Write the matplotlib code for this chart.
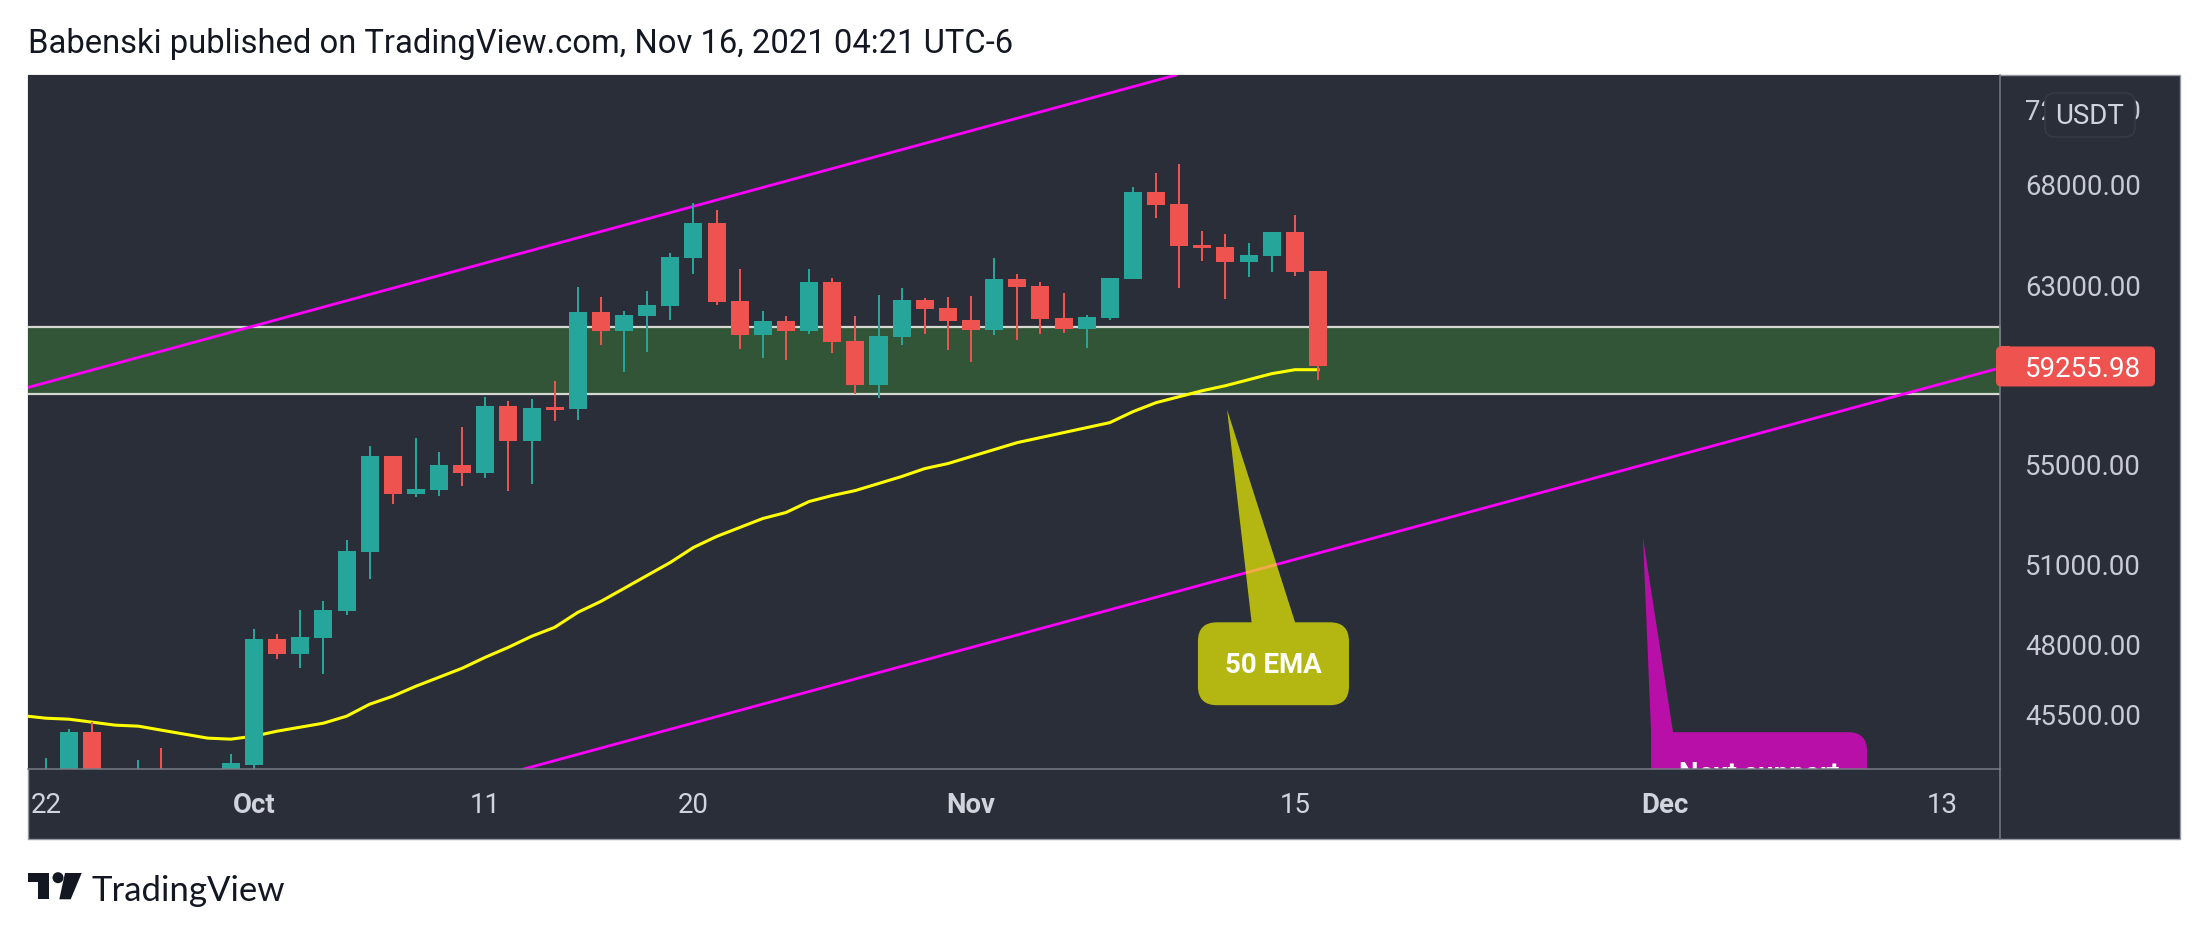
import numpy as np
from matplotlib import pyplot as plt
from matplotlib.patches import FancyBboxPatch, PathPatch, Polygon, Circle, Rectangle
from matplotlib.path import Path
from matplotlib.ticker import NullLocator, NullFormatter
from matplotlib.transforms import IdentityTransform

plt.rcParams['font.family'] = ['Roboto', 'DejaVu Sans']

W, H = 2208, 935
BG = "#2a2e39"
UP = "#26a69a"
DOWN = "#ef5350"
AXIS = "#787b86"
TEXT = "#d1d4dc"
LABEL_SIZE = 19.9

# days counted from Oct 1 2021
days = list(range(-9, 47))
opens = [40700, 43560, 44905, 42840, 42700, 43170, 42170, 41030, 41520, 43797, 48181, 47637, 48217, 49214,
         51462, 55385, 53813, 53976, 55008, 54676, 57521, 56017, 57477, 57390, 61765, 60883, 61579, 62047,
         64344, 66072, 62282, 60699, 61345, 60883, 63184, 60424, 58443, 60607, 62329, 61953, 61392, 60929,
         63328, 62994, 61485, 60975, 61485, 63328, 67641, 67029, 64980, 64881, 64149, 64441, 65623, 63713]
highs = [44030, 45007, 45247, 43300, 43963, 44365, 42790, 42600, 44163, 48547, 48364, 49251, 49588, 51932,
         55804, 55385, 56144, 55552, 56614, 57914, 57739, 57827, 58621, 62946, 62471, 61812, 62756, 64588,
         67079, 66725, 63809, 61812, 61579, 63809, 63376, 61579, 62566, 62897, 62424, 62471, 62519, 64344,
         63569, 63184, 62661, 61625, 63376, 67897, 68621, 69093, 65672, 65524, 65078, 65623, 66473, 63713]
lows = [39600, 43100, 40800, 41700, 40800, 42100, 40900, 40800, 41400, 43300, 47457, 47135, 46921, 49065,
        50420, 53407, 53691, 53732, 54141, 54470, 53935, 54222, 56872, 56915, 60241, 59021, 59922, 61392,
        63569, 62094, 60059, 59651, 59560, 60745, 59877, 58046, 57871, 60241, 60745, 60013, 59470, 60699,
        60469, 60745, 60791, 60104, 61392, 63328, 66322, 62898, 64197, 62376, 63424, 63665, 63472, 58665]
closes = [43570, 44905, 42840, 43170, 43170, 42170, 41030, 41520, 43863, 48181, 47637, 48254, 49251, 51501,
          55385, 53813, 54017, 55008, 54676, 57521, 56017, 57434, 57347, 61765, 60883, 61625, 62094, 64392,
          66072, 62235, 60699, 61345, 60883, 63184, 60378, 58443, 60653, 62329, 61906, 61345, 60929, 63328,
          62946, 61439, 60975, 61532, 63376, 67641, 66978, 64930, 64832, 64149, 64490, 65623, 63665, 59255.98]

ema_days = list(range(-10, 47))
ema = [45470, 45383, 45349, 45247, 45144, 45110, 44973, 44837, 44702, 44668, 44769, 44939, 45075, 45212,
       45451, 45867, 46146, 46498, 46815, 47135, 47529, 47890, 48291, 48621, 49176, 49588, 50078, 50574,
       51073, 51657, 52089, 52445, 52804, 53044, 53488, 53732, 53935, 54222, 54511, 54841, 55050, 55343,
       55636, 55932, 56144, 56357, 56571, 56786, 57260, 57652, 57914, 58178, 58398, 58665, 58933, 59111, 59111]

zone_prices = [58040, 61060]
upper_days, upper_prices = [-9.77, 39.86], [58321, 73914]
lower_days, lower_prices = [11.67, 75.48], [43668, 59192]

price_ticks = [72000, 68000, 63000, 55000, 51000, 48000, 45500]
last_price = 59255.98
date_ticks = [-9, 0, 10, 19, 31, 45, 61, 73]
date_labels = ["22", "Oct", "11", "20", "Nov", "15", "Dec", "13"]
bold_labels = ["Oct", "Nov", "Dec"]


def callout(ax, tip, box, base, radius, color, alpha=1.0):
    # box is left, right, top price, bottom price; drawn in display pixels so corners stay round
    to_px = ax.transData.transform
    tx, ty = to_px(tip)
    l, t = to_px((box[0], box[2]))
    r, b = to_px((box[1], box[3]))
    b0 = to_px((base[0], box[2]))[0]
    b1 = to_px((base[1], box[2]))[0]
    verts = [(b0, t), (tx, ty), (b1, t), (r - radius, t), (r, t), (r, t - radius),
             (r, b + radius), (r, b), (r - radius, b), (l + radius, b), (l, b), (l, b + radius)]
    codes = [Path.MOVETO, Path.LINETO, Path.LINETO, Path.LINETO, Path.CURVE3, Path.CURVE3,
             Path.LINETO, Path.CURVE3, Path.CURVE3, Path.LINETO, Path.CURVE3, Path.CURVE3]
    if b0 > l:
        verts += [(l, t - radius), (l, t), (l + radius, t)]
        codes += [Path.LINETO, Path.CURVE3, Path.CURVE3]
    else:
        verts += [(l, t)]
        codes += [Path.LINETO]
    verts.append((b0, t))
    codes.append(Path.CLOSEPOLY)
    patch = PathPatch(Path(verts, codes), facecolor=color, edgecolor="none", alpha=alpha,
                      transform=IdentityTransform(), zorder=6)
    ax.add_artist(patch)


fig = plt.figure(figsize=(W / 100, H / 100), dpi=100, facecolor="white")

# page furniture, in pixels
bg = fig.add_axes([0, 0, 1, 1], zorder=-1)
bg.set_xlim(0, W)
bg.set_ylim(H, 0)
bg.axis("off")
bg.add_patch(Rectangle((28, 75), 2152, 764, facecolor=BG, edgecolor="#9598a1", lw=1))
bg.text(28, 53, "Babenski published on TradingView.com, Nov 16, 2021 04:21 UTC-6",
        fontsize=23.57, color="#131722", va="baseline")
bg.add_patch(Polygon([(28, 873), (48.7, 873), (48.7, 899.3), (38.3, 899.3), (38.3, 881.7), (28, 881.7)],
                     facecolor="#131722"))
bg.add_patch(Circle((58, 877.7), 5.5, facecolor="#131722"))
bg.add_patch(Polygon([(65, 873), (81.7, 873), (70.7, 899.3), (59.3, 899.3)], facecolor="#131722"))
bg.text(92, 901, "TradingView", fontsize=25, family="Lato", color="#131722", va="baseline")

# chart pane
ax = fig.add_axes([28 / W, 1 - 769 / H, 1972 / W, 694 / H], zorder=1)
ax.set_facecolor(BG)
ax.set_yscale("log")
ax.set_xlim(-9.771, 75.486)
ax.set_ylim(43668, 73914)

ax.axhspan(zone_prices[0], zone_prices[1], facecolor="#315536", edgecolor="none", zorder=1)
for p in zone_prices:
    ax.axhline(p, color="#d5d8d0", lw=1.6, zorder=2)

ax.plot(upper_days, upper_prices, color="#ff00ff", lw=2.0, zorder=3)
ax.plot(lower_days, lower_prices, color="#ff00ff", lw=2.0, zorder=3)
ax.plot(ema_days, ema, color="#ffff00", lw=2.2, zorder=3)

colors = [UP if c >= o else DOWN for o, c in zip(opens, closes)]
ax.vlines(days, lows, highs, colors=colors, lw=1.45, zorder=4)
ax.bar(days, [abs(c - o) for o, c in zip(opens, closes)], bottom=[min(o, c) for o, c in zip(opens, closes)],
       width=0.78, color=colors, linewidth=0, zorder=5)

callout(ax, (42.07, 57347), (40.81, 47.34, 48806, 45833), (43.13, 45.01), 19, "#f0f300", alpha=0.7)
ax.text(44.07, 47250, "50 EMA", color="white", fontsize=LABEL_SIZE, fontweight="bold",
        ha="center", va="center", zorder=7)
callout(ax, (60.05, 52050), (60.4, 69.74, 44905, 42337), (60.4, 61.35), 19, "#b80fa8")
ax.text(65.07, 43480, "Next support", color="white", fontsize=LABEL_SIZE, fontweight="bold",
        ha="center", va="center", zorder=7, clip_on=True)

ax.yaxis.tick_right()
ax.set_yticks(price_ticks)
ax.set_yticklabels([f"{p:.2f}" for p in price_ticks])
ax.yaxis.set_minor_locator(NullLocator())
ax.yaxis.set_minor_formatter(NullFormatter())
ax.tick_params(axis="y", length=0, pad=18, labelsize=LABEL_SIZE, labelcolor="#c8cbd4")
ax.set_xticks(date_ticks)
ax.set_xticklabels(date_labels)
ax.tick_params(axis="x", length=0, pad=16.5, labelsize=LABEL_SIZE, labelcolor=TEXT)
for lab in ax.get_xticklabels():
    if lab.get_text() in bold_labels:
        lab.set_fontweight("bold")

for side in ["top", "left"]:
    ax.spines[side].set_visible(False)
for side in ["bottom", "right"]:
    ax.spines[side].set_color(AXIS)
    ax.spines[side].set_linewidth(1.1)
    ax.spines[side].set_zorder(8)

# separator under the price axis column runs to the frame bottom
bg.plot([2000, 2000], [769, 839], color=AXIS, lw=1.1, zorder=3)

# things that sit above the axis labels
top = fig.add_axes([0, 0, 1, 1], zorder=10)
top.set_xlim(0, W)
top.set_ylim(H, 0)
top.axis("off")
tag_y = H - ax.transData.transform((0, last_price))[1]
top.add_patch(FancyBboxPatch((1996, tag_y - 20), 159, 40, boxstyle="round,pad=0,rounding_size=5",
                             facecolor=DOWN, edgecolor="none"))
top.add_patch(Rectangle((2000, tag_y - 20), 10, 40, facecolor=DOWN, edgecolor="none"))
top.plot([2000, 2000], [tag_y - 40, tag_y - 20], color=AXIS, lw=1.1)
top.text(2025, tag_y, f"{last_price:.2f}", color="white", fontsize=LABEL_SIZE, va="center_baseline")
top.add_patch(FancyBboxPatch((2045, 93), 90, 44, boxstyle="round,pad=0,rounding_size=10",
                             facecolor=BG, edgecolor="#363a45", lw=1.2))
top.text(2090, 114, "USDT", color=TEXT, fontsize=LABEL_SIZE, ha="center", va="center_baseline")

plt.savefig("out.png", dpi=100)
